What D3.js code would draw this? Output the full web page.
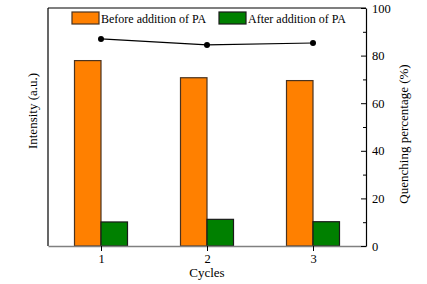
<!DOCTYPE html>
<html>
<head>
<meta charset="utf-8">
<script src="https://cdn.jsdelivr.net/npm/d3@7"></script>
<style>
  body { margin: 0; background: #fff; }
  svg text { font-family: "Liberation Serif", "Times New Roman", serif; }
</style>
</head>
<body>
<div id="chart"></div>
<script>
(function() {
  var cycles = [1, 2, 3];
  var before = [77.9, 70.7, 69.5];   // intensity before PA
  var after = [10.1, 11.2, 10.2];    // intensity after PA
  var quench = [87.0, 84.5, 85.3];   // quenching percentage
  var seriesNames = ["Before addition of PA", "After addition of PA"];
  var rightTicks = [0, 20, 40, 60, 80, 100];

  var W = 427, H = 284;
  var left = 48, right = 366, top = 8, bottom = 246;

  var svg = d3.select("#chart").append("svg")
    .attr("width", W).attr("height", H);

  var x = d3.scaleLinear().domain([0.5, 3.5]).range([left, right]);
  var y = d3.scaleLinear().domain([0, 100]).range([bottom, top]);
  var bw = x(1.25) - x(1); // bar width

  // bars before
  svg.selectAll("rect.before")
    .data(before).enter().append("rect")
    .attr("class", "before")
    .attr("x", function(d, i) { return x(cycles[i]) - bw; })
    .attr("y", function(d) { return y(d); })
    .attr("width", bw)
    .attr("height", function(d) { return y(0) - y(d); })
    .attr("fill", "#ff8000")
    .attr("stroke", "#4a3320")
    .attr("stroke-width", 1.2);

  // bars after
  svg.selectAll("rect.after")
    .data(after).enter().append("rect")
    .attr("class", "after")
    .attr("x", function(d, i) { return x(cycles[i]); })
    .attr("y", function(d) { return y(d); })
    .attr("width", bw)
    .attr("height", function(d) { return y(0) - y(d); })
    .attr("fill", "#008000")
    .attr("stroke", "#1a1a1a")
    .attr("stroke-width", 1.2);

  // quenching line
  var line = d3.line()
    .x(function(d, i) { return x(cycles[i]); })
    .y(function(d) { return y(d); });
  svg.append("path")
    .datum(quench)
    .attr("d", line)
    .attr("fill", "none")
    .attr("stroke", "#000")
    .attr("stroke-width", 1.2);
  svg.selectAll("circle.q")
    .data(quench).enter().append("circle")
    .attr("class", "q")
    .attr("cx", function(d, i) { return x(cycles[i]); })
    .attr("cy", function(d) { return y(d); })
    .attr("r", 3)
    .attr("fill", "#000");

  // frame: top and left
  svg.append("line").attr("x1", left).attr("x2", right).attr("y1", top).attr("y2", top)
    .attr("stroke", "#000").attr("stroke-width", 1.2);
  svg.append("line").attr("x1", left).attr("x2", left).attr("y1", top).attr("y2", bottom)
    .attr("stroke", "#000").attr("stroke-width", 1.2);

  // bottom axis
  var xAxis = svg.append("g")
    .attr("transform", "translate(0," + bottom + ")")
    .call(d3.axisBottom(x).tickValues(cycles).tickFormat(d3.format("d")).tickSize(5).tickSizeOuter(0));
  xAxis.select(".domain").attr("stroke", "#808080").attr("stroke-width", 1.5);
  xAxis.selectAll(".tick line").attr("stroke", "#000");
  xAxis.selectAll("text").attr("font-size", 12.5).attr("fill", "#000")
    .attr("font-family", "Liberation Serif");

  // right axis: minor ticks
  var yAxisMinor = svg.append("g")
    .attr("transform", "translate(" + right + ",0)")
    .call(d3.axisLeft(y).tickValues([10, 30, 50, 70, 90]).tickSize(3).tickFormat(""));
  yAxisMinor.select(".domain").remove();

  var yAxis = svg.append("g")
    .attr("transform", "translate(" + right + ",0)")
    .call(d3.axisRight(y).tickValues(rightTicks).tickSize(0).tickSizeOuter(0).tickPadding(6));
  yAxis.select(".domain").attr("stroke", "#000").attr("stroke-width", 1.2);
  yAxis.selectAll("text").attr("font-size", 12.5).attr("fill", "#000")
    .attr("font-family", "Liberation Serif");
  yAxis.selectAll(".tick").append("line")
    .attr("x1", -5).attr("x2", 0).attr("stroke", "#000");

  // axis titles
  svg.append("text")
    .attr("transform", "translate(37,111) rotate(-90)")
    .attr("text-anchor", "middle")
    .attr("font-size", 13)
    .text("Intensity (a.u.)");
  svg.append("text")
    .attr("transform", "translate(408,134) rotate(-90)")
    .attr("text-anchor", "middle")
    .attr("font-size", 13)
    .text("Quenching percentage (%)");
  svg.append("text")
    .attr("x", x(2)).attr("y", 277)
    .attr("text-anchor", "middle")
    .attr("font-size", 13)
    .text("Cycles");

  // legend
  var legX = [72, 219];
  var legColors = ["#ff8000", "#008000"];
  var legStroke = ["#4a3320", "#1a1a1a"];
  var leg = svg.selectAll("g.leg")
    .data(seriesNames).enter().append("g")
    .attr("class", "leg")
    .attr("transform", function(d, i) { return "translate(" + legX[i] + ",12)"; });
  leg.append("rect")
    .attr("width", 27).attr("height", 12)
    .attr("fill", function(d, i) { return legColors[i]; })
    .attr("stroke", function(d, i) { return legStroke[i]; })
    .attr("stroke-width", 1.2);
  leg.append("text")
    .attr("x", 29).attr("y", 10.5)
    .attr("font-size", 12)
    .text(function(d) { return d; });
})();
</script>
</body>
</html>
